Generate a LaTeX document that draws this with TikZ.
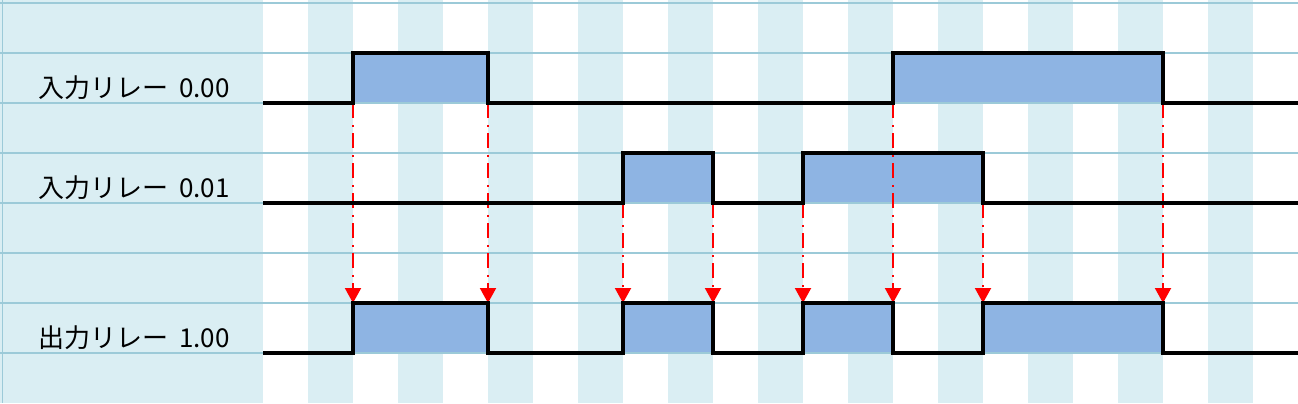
\documentclass[tikz,border=0pt]{standalone}
\usepackage{fontspec}
\newfontfamily\jpfont{Noto Sans CJK JP}
\usetikzlibrary{arrows.meta}
\definecolor{stripe}{HTML}{DAEEF3}
\definecolor{gridc}{HTML}{9CCAD8}
\definecolor{pulse}{HTML}{8EB4E3}
\tikzset{
  gridline/.style={draw=gridc,line width=1.3bp},
  signal/.style={draw=black,line width=3.6bp,line join=miter},
  pulsefill/.style={fill=pulse,draw=none},
  trigger/.style={draw=red,line width=2bp,dash pattern=on 15bp off 7bp on 2bp off 6bp,
    -{Triangle[width=16bp,length=15bp]}},
  relaylabel/.style={anchor=base west,inner sep=0pt,font=\jpfont\fontsize{26bp}{26bp}\selectfont}
}
\begin{document}
\begin{tikzpicture}[x=1bp,y=-1bp]
\useasboundingbox (0,0) rectangle (1298,403);
% background
\fill[stripe] (0,0) rectangle (263,403);
\foreach \i in {1,3,...,21} {
  \fill[stripe] ({263+45*\i},0) rectangle ({263+45*(\i+1)},403);
}
% pulse fills
\fill[pulsefill] (353,53) rectangle (488,103);
\fill[pulsefill] (893,53) rectangle (1163,103);
\fill[pulsefill] (623,153) rectangle (713,203);
\fill[pulsefill] (803,153) rectangle (983,203);
\fill[pulsefill] (353,303) rectangle (488,353);
\fill[pulsefill] (623,303) rectangle (713,353);
\fill[pulsefill] (803,303) rectangle (893,353);
\fill[pulsefill] (983,303) rectangle (1163,353);
% grid
\foreach \y in {3,53,...,353} {
  \draw[gridline] (0,\y) -- (1298,\y);
}
\draw[draw=gridc,line width=1.2bp] (2.5,0) -- (2.5,403);
% labels
\node[relaylabel] (lab0) at (38,97) {入力リレー\hspace{11bp}0.00};
\node[relaylabel] (lab1) at (38,197) {入力リレー\hspace{11bp}0.01};
\node[relaylabel] (lab2) at (38,347) {出力リレー\hspace{11bp}1.00};
% edge coordinates
\coordinate (a1) at (353,103); \coordinate (a2) at (488,103);
\coordinate (a3) at (893,103); \coordinate (a4) at (1163,103);
\coordinate (b1) at (623,203); \coordinate (b2) at (713,203);
\coordinate (b3) at (803,203); \coordinate (b4) at (983,203);
\coordinate (o1) at (353,303); \coordinate (o2) at (488,303);
\coordinate (o3) at (623,303); \coordinate (o4) at (713,303);
\coordinate (o5) at (803,303); \coordinate (o6) at (893,303);
\coordinate (o7) at (983,303); \coordinate (o8) at (1163,303);
% trigger arrows
\draw[trigger] (a1) -- (o1);
\draw[trigger] (a2) -- (o2);
\draw[trigger] (b1) -- (o3);
\draw[trigger] (b2) -- (o4);
\draw[trigger] (b3) -- (o5);
\draw[trigger] (a3) -- (o6);
\draw[trigger] (b4) -- (o7);
\draw[trigger] (a4) -- (o8);
% signals
\draw[signal] (263,103) -- (353,103) -- (353,53) -- (488,53) -- (488,103)
  -- (893,103) -- (893,53) -- (1163,53) -- (1163,103) -- (1298,103);
\draw[signal] (263,203) -- (623,203) -- (623,153) -- (713,153) -- (713,203)
  -- (803,203) -- (803,153) -- (983,153) -- (983,203) -- (1298,203);
\draw[signal] (263,353) -- (353,353) -- (353,303) -- (488,303) -- (488,353)
  -- (623,353) -- (623,303) -- (713,303) -- (713,353)
  -- (803,353) -- (803,303) -- (893,303) -- (893,353)
  -- (983,353) -- (983,303) -- (1163,303) -- (1163,353) -- (1298,353);
\end{tikzpicture}
\end{document}
